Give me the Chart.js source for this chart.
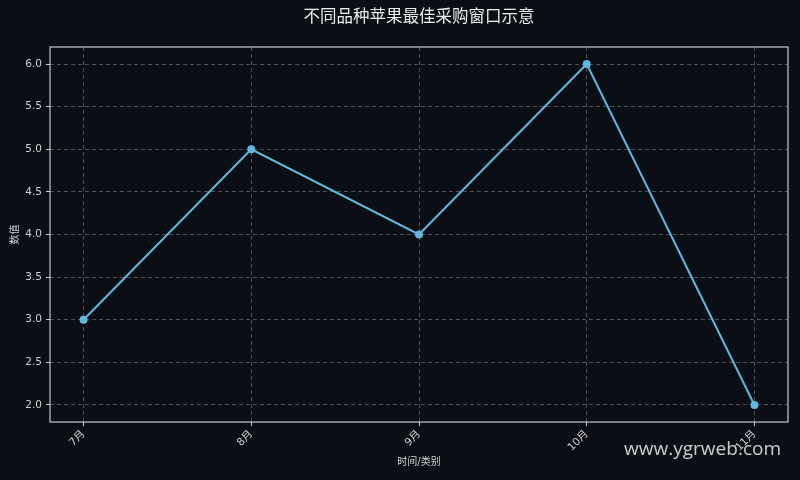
<!DOCTYPE html>
<html>
<head>
<meta charset="utf-8">
<script src="https://cdn.jsdelivr.net/npm/chart.js@4/dist/chart.umd.min.js"></script>
<style>
  html, body { margin: 0; padding: 0; background: #0b0e15; }
  #wrap { width: 800px; height: 480px; position: relative; }
</style>
</head>
<body>
<div id="wrap"><canvas id="chart"></canvas></div>
<script>
const months = ['7月', '8月', '9月', '10月', '11月'];
const values = [3, 5, 4, 6, 2];
const yTicks = [2.0, 2.5, 3.0, 3.5, 4.0, 4.5, 5.0, 5.5, 6.0];

const titleText = '不同品种苹果最佳采购窗口示意';
const xTitle = '时间/类别';
const yTitle = '数值';
const watermark = 'www.ygrweb.com';

const fontFamily = '"DejaVu Sans", "Noto Sans CJK SC", sans-serif';
const textColor = '#d0d0d0';
const gridColor = 'rgba(200, 200, 200, 0.35)';
const frameColor = '#c8c8c8';
const lineColor = '#60b8dc';

// frame, title and watermark drawn on top of the chart area
const decorations = {
    id: 'decorations',
    beforeDraw(chart) {
        const {ctx} = chart;
        ctx.save();
        ctx.fillStyle = '#0b0e15';
        ctx.fillRect(0, 0, chart.width, chart.height);
        ctx.restore();
    },
    afterDraw(chart) {
        const {ctx, chartArea: a} = chart;
        ctx.save();
        ctx.strokeStyle = frameColor;
        ctx.lineWidth = 1.2;
        ctx.strokeRect(a.left, a.top, a.right - a.left, a.bottom - a.top);

        ctx.fillStyle = '#ececec';
        ctx.font = '16.5px ' + fontFamily;
        ctx.textAlign = 'center';
        ctx.textBaseline = 'middle';
        ctx.fillText(titleText, (a.left + a.right) / 2, 18);

        ctx.fillStyle = textColor;
        ctx.font = '10px ' + fontFamily;
        ctx.fillText(xTitle, (a.left + a.right) / 2, 462);

        ctx.translate(15, (a.top + a.bottom) / 2);
        ctx.rotate(-Math.PI / 2);
        ctx.fillText(yTitle, 0, 0);
        ctx.restore();

        ctx.save();
        ctx.fillStyle = 'rgba(235, 235, 235, 0.85)';
        ctx.font = '19px "Open Sans", "Noto Sans", sans-serif';
        ctx.textAlign = 'right';
        ctx.textBaseline = 'alphabetic';
        ctx.fillText(watermark, 781, 455);
        ctx.restore();
    }
};

const ctx = document.getElementById('chart').getContext('2d');

new Chart(ctx, {
    type: 'line',
    data: {
        datasets: [{
            data: values.map((v, i) => ({x: i, y: v})),
            borderColor: lineColor,
            backgroundColor: lineColor,
            borderWidth: 2,
            tension: 0,
            pointRadius: 4,
            pointBorderWidth: 0,
            pointBackgroundColor: lineColor,
            fill: false,
        }],
    },
    options: {
        responsive: true,
        maintainAspectRatio: false,
        animation: false,
        devicePixelRatio: 1,
        layout: {
            padding: {top: 47, right: 12, left: 0, bottom: 0},
        },
        scales: {
            x: {
                type: 'linear',
                min: -0.2,
                max: 4.2,
                afterBuildTicks: (scale) => {
                    scale.ticks = months.map((m, i) => ({value: i}));
                },
                afterFit: (scale) => { scale.height = 58; },
                ticks: {
                    callback: (value) => months[value],
                    color: textColor,
                    font: {family: fontFamily, size: 10.5},
                    minRotation: 45,
                    maxRotation: 45,
                    padding: 2,
                },
                grid: {
                    color: gridColor,
                    tickColor: frameColor,
                    tickLength: 4,
                    tickBorderDash: [],
                },
                border: {display: false, dash: [4, 3]},
            },
            y: {
                min: 1.8,
                max: 6.2,
                afterBuildTicks: (scale) => {
                    scale.ticks = yTicks.map(v => ({value: v}));
                },
                afterFit: (scale) => { scale.width = 50; },
                ticks: {
                    callback: (value) => value.toFixed(1),
                    color: textColor,
                    font: {family: fontFamily, size: 10.5},
                    padding: 4,
                },
                grid: {
                    color: gridColor,
                    tickColor: frameColor,
                    tickLength: 4,
                    tickBorderDash: [],
                },
                border: {display: false, dash: [4, 3]},
            },
        },
        plugins: {
            legend: {display: false},
            tooltip: {enabled: false},
        },
    },
    plugins: [decorations],
});
</script>
</body>
</html>
